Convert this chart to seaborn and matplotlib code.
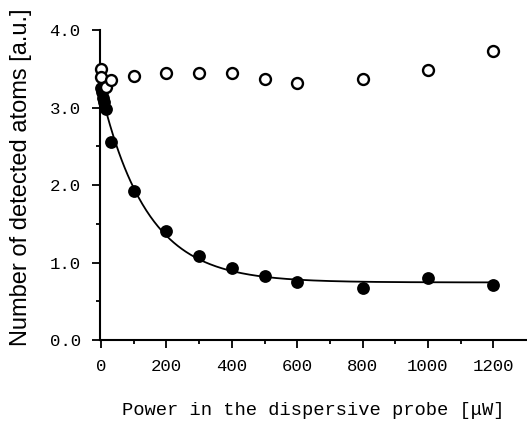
import numpy as np
import pandas as pd
import matplotlib
matplotlib.use('Agg')
import matplotlib.pyplot as plt
import seaborn as sns

# filled circles: atoms with dispersive probe
power_filled = [0, 2, 5, 10, 15, 30, 100, 200, 300, 400, 500, 600, 800, 1000, 1200]
atoms_filled = [3.25, 3.20, 3.12, 3.07, 2.98, 2.56, 1.92, 1.41, 1.08, 0.93, 0.83, 0.75, 0.67, 0.80, 0.71]

# open circles: reference
power_open = [0, 0, 15, 30, 100, 200, 300, 400, 500, 600, 800, 1000, 1200]
atoms_open = [3.50, 3.40, 3.27, 3.36, 3.41, 3.45, 3.44, 3.45, 3.37, 3.31, 3.37, 3.49, 3.73]

x_ticks = [0, 200, 400, 600, 800, 1000, 1200]
y_ticks = [0.0, 1.0, 2.0, 3.0, 4.0]

df_f = pd.DataFrame({'power': power_filled, 'atoms': atoms_filled})
df_o = pd.DataFrame({'power': power_open, 'atoms': atoms_open})

# exponential decay fit y = A + B*exp(-x/x0), grid over x0, least squares for A, B
xf = np.array(power_filled, float)
yf = np.array(atoms_filled, float)
best = None
for x0 in np.linspace(20, 500, 961):
    M = np.column_stack([np.ones_like(xf), np.exp(-xf / x0)])
    coef, res, *_ = np.linalg.lstsq(M, yf, rcond=None)
    err = np.sum((M @ coef - yf) ** 2)
    if best is None or err < best[0]:
        best = (err, x0, coef)
_, x0, (A, B) = best
xx = np.linspace(0, 1200, 400)
df_fit = pd.DataFrame({'power': xx, 'atoms': A + B * np.exp(-xx / x0)})

sns.set_style('ticks')
plt.rcParams['text.color'] = 'black'
plt.rcParams['axes.labelcolor'] = 'black'
plt.rcParams['xtick.color'] = 'black'
plt.rcParams['ytick.color'] = 'black'
mono = 'Liberation Mono'

fig = plt.figure(figsize=(5.27, 4.28), dpi=100)
ax = fig.add_axes([0.19, 0.2056, 0.808, 0.7243])

sns.lineplot(data=df_fit, x='power', y='atoms', ax=ax, color='black', lw=1.3)
sns.scatterplot(data=df_f, x='power', y='atoms', ax=ax, color='black', s=85,
                edgecolor='black', linewidth=0, zorder=3, clip_on=False)
sns.scatterplot(data=df_o, x='power', y='atoms', ax=ax, facecolor='white', s=62,
                edgecolor='black', linewidth=1.7, zorder=4, clip_on=False)

ax.set_xlim(-3, 1300)
ax.set_ylim(0, 4.0)
ax.set_xticks(x_ticks)
ax.set_xticks(np.arange(100, 1300, 200), minor=True)
ax.set_yticks(y_ticks)
ax.set_yticks([0.5, 1.5, 2.5, 3.5], minor=True)
ax.set_xticklabels([str(v) for v in x_ticks], fontfamily=mono, fontsize=12.5)
ax.set_yticklabels([f'{v:.1f}' for v in y_ticks], fontfamily=mono, fontsize=12.5)
ax.tick_params(which='major', length=6, width=1.3, pad=8)
ax.tick_params(which='minor', length=3, width=1.3)
for side in ['top', 'right']:
    ax.spines[side].set_visible(False)
for side in ['left', 'bottom']:
    ax.spines[side].set_linewidth(1.5)
    ax.spines[side].set_color('black')

ax.set_xlabel('Power in the dispersive probe [\u03bcW]', fontfamily=mono, fontsize=13.5, labelpad=20)
ax.set_ylabel('Number of detected atoms [a.u.]', fontfamily='Liberation Sans', fontsize=17)
ax.yaxis.set_label_coords(-0.16, 0.525)

fig.savefig('out.png', dpi=100)
